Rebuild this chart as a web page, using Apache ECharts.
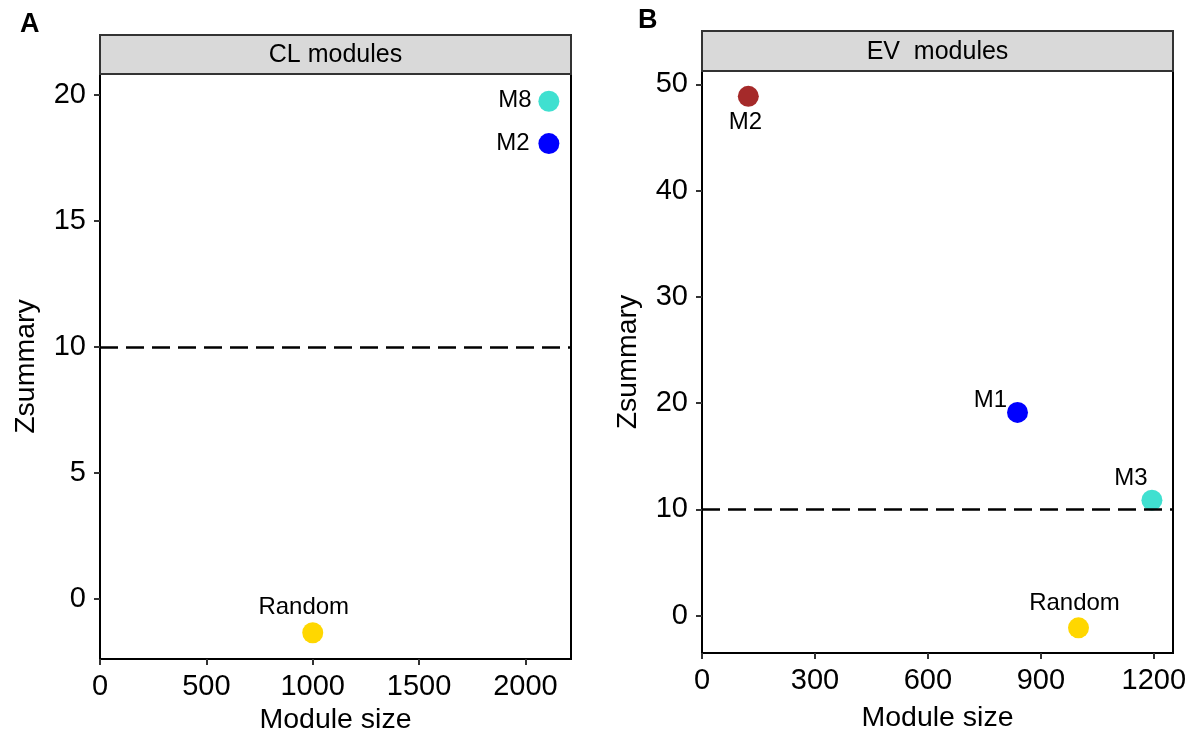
<!DOCTYPE html>
<html>
<head>
<meta charset="utf-8">
<script src="https://cdn.jsdelivr.net/npm/echarts@6/dist/echarts.min.js"></script>
<style>
html,body{margin:0;padding:0;background:#fff;}
#chart{width:1198px;height:740px;}
</style>
</head>
<body>
<div id="chart"></div>
<script>
// ---- data ----
const clNames = ['M8', 'M2', 'Random'];
const clSize = [2110, 2110, 1000];
const clZ = [19.75, 18.07, -1.33];

const evNames = ['M2', 'M1', 'M3', 'Random'];
const evSize = [123, 838, 1195, 1000];
const evZ = [48.87, 19.13, 10.88, -1.13];

const threshold = 10;

const xTicksA = [0, 500, 1000, 1500, 2000];
const yTicksA = [0, 5, 10, 15, 20];
const xTicksB = [0, 300, 600, 900, 1200];
const yTicksB = [0, 10, 20, 30, 40, 50];

const panelTitles = ['CL modules', 'EV  modules'];
const panelLetters = ['A', 'B'];

// ---- styles (not data) ----
const FONT = 'Liberation Sans, Arial, Helvetica, sans-serif';
const colorsA = { 'M8': '#40E0D0', 'M2': '#0000FF', 'Random': '#FFD700' };
const colorsB = { 'M2': '#A52A2A', 'M1': '#0000FF', 'M3': '#40E0D0', 'Random': '#FFD700' };
const offsetsA = { 'M8': [-34, -1], 'M2': [-36, 0], 'Random': [-9, -25] };
const offsetsB = { 'M2': [-3, 26], 'M1': [-27, -12], 'M3': [-21, -22], 'Random': [-4, -24] };

const limits = {
  A: { xmin: 0, xmax: 2214, ymin: -2.37, ymax: 20.83 },
  B: { xmin: 0, xmax: 1251, ymin: -3.5, ymax: 51.25 }
};

const grids = [
  { left: 100, right: 627, top: 74, bottom: 81 },
  { left: 702, right: 25, top: 71, bottom: 87 }
];

function buildData(names, xs, ys, colors, offsets) {
  return names.map((n, i) => ({
    name: n,
    value: [xs[i], ys[i]],
    itemStyle: { color: colors[n], opacity: 1 },
    label: { offset: offsets[n] }
  }));
}

function xAxis(idx, lim, ticks, gap) {
  return {
    type: 'value', gridIndex: idx, min: lim.xmin, max: lim.xmax,
    name: 'Module size', nameLocation: 'middle', nameGap: gap,
    nameTextStyle: { fontFamily: FONT, fontSize: 28.5, color: '#000' },
    axisLine: { show: true, onZero: false, lineStyle: { color: '#000', width: 2 } },
    axisTick: { show: true, length: 6, lineStyle: { color: '#333', width: 2 }, customValues: ticks },
    axisLabel: { fontFamily: FONT, fontSize: 29, color: '#000', margin: 13, customValues: ticks,
                 formatter: v => String(v) },
    splitLine: { show: false }
  };
}
function yAxis(idx, lim, ticks) {
  return {
    type: 'value', gridIndex: idx, min: lim.ymin, max: lim.ymax,
    name: 'Zsummary', nameLocation: 'middle', nameGap: 59, nameRotate: 90,
    nameTextStyle: { fontFamily: FONT, fontSize: 28.5, color: '#000' },
    axisLine: { show: true, onZero: false, lineStyle: { color: '#000', width: 2 } },
    axisTick: { show: true, length: 6, lineStyle: { color: '#333', width: 2 }, customValues: ticks },
    axisLabel: { fontFamily: FONT, fontSize: 29, color: '#000', margin: 14, customValues: ticks,
                 formatter: v => String(v) },
    splitLine: { show: false }
  };
}

function scatter(idx, data) {
  return {
    type: 'scatter', xAxisIndex: idx, yAxisIndex: idx,
    symbolSize: 21, data: data,
    itemStyle: { opacity: 1 },
    label: { show: true, position: 'inside', formatter: '{b}', fontFamily: FONT, fontSize: 24, color: '#000', opacity: 1 },
    emphasis: { disabled: true },
    markLine: {
      silent: true, symbol: 'none', label: { show: false },
      lineStyle: { color: '#000', width: 2.5, type: [18, 8], opacity: 1 },
      data: [{ yAxis: threshold }]
    },
    z: 3
  };
}

function strip(g, top, title) {
  const left = g.left;
  const width = 1198 - g.right - g.left;
  return [
    { type: 'rect', shape: { x: left, y: top, width: width, height: g.top - top },
      style: { fill: '#d9d9d9', stroke: '#333', lineWidth: 2 }, z: 10 },
    { type: 'text', x: left + width / 2, y: top + (g.top - top) / 2 + 1,
      style: { text: title, fontFamily: FONT, fontSize: 25, fill: '#000', textAlign: 'center', textVerticalAlign: 'middle' }, z: 11 }
  ];
}

const chart = echarts.init(document.getElementById('chart'), null, { renderer: 'canvas' });
chart.setOption({
  backgroundColor: '#fff',
  animation: false,
  grid: grids.map(g => Object.assign({ show: true, borderColor: '#000', borderWidth: 2, backgroundColor: 'transparent' }, g)),
  xAxis: [xAxis(0, limits.A, xTicksA, 47), xAxis(1, limits.B, xTicksB, 51)],
  yAxis: [yAxis(0, limits.A, yTicksA), yAxis(1, limits.B, yTicksB)],
  series: [
    scatter(0, buildData(clNames, clSize, clZ, colorsA, offsetsA)),
    scatter(1, buildData(evNames, evSize, evZ, colorsB, offsetsB))
  ],
  graphic: [
    ...strip(grids[0], 35, panelTitles[0]),
    ...strip(grids[1], 31, panelTitles[1]),
    { type: 'text', x: 20, y: 11, style: { text: panelLetters[0], fontFamily: FONT, fontSize: 27, fontWeight: 'bold', fill: '#000' } },
    { type: 'text', x: 638, y: 7, style: { text: panelLetters[1], fontFamily: FONT, fontSize: 27, fontWeight: 'bold', fill: '#000' } }
  ]
});
</script>
</body>
</html>
